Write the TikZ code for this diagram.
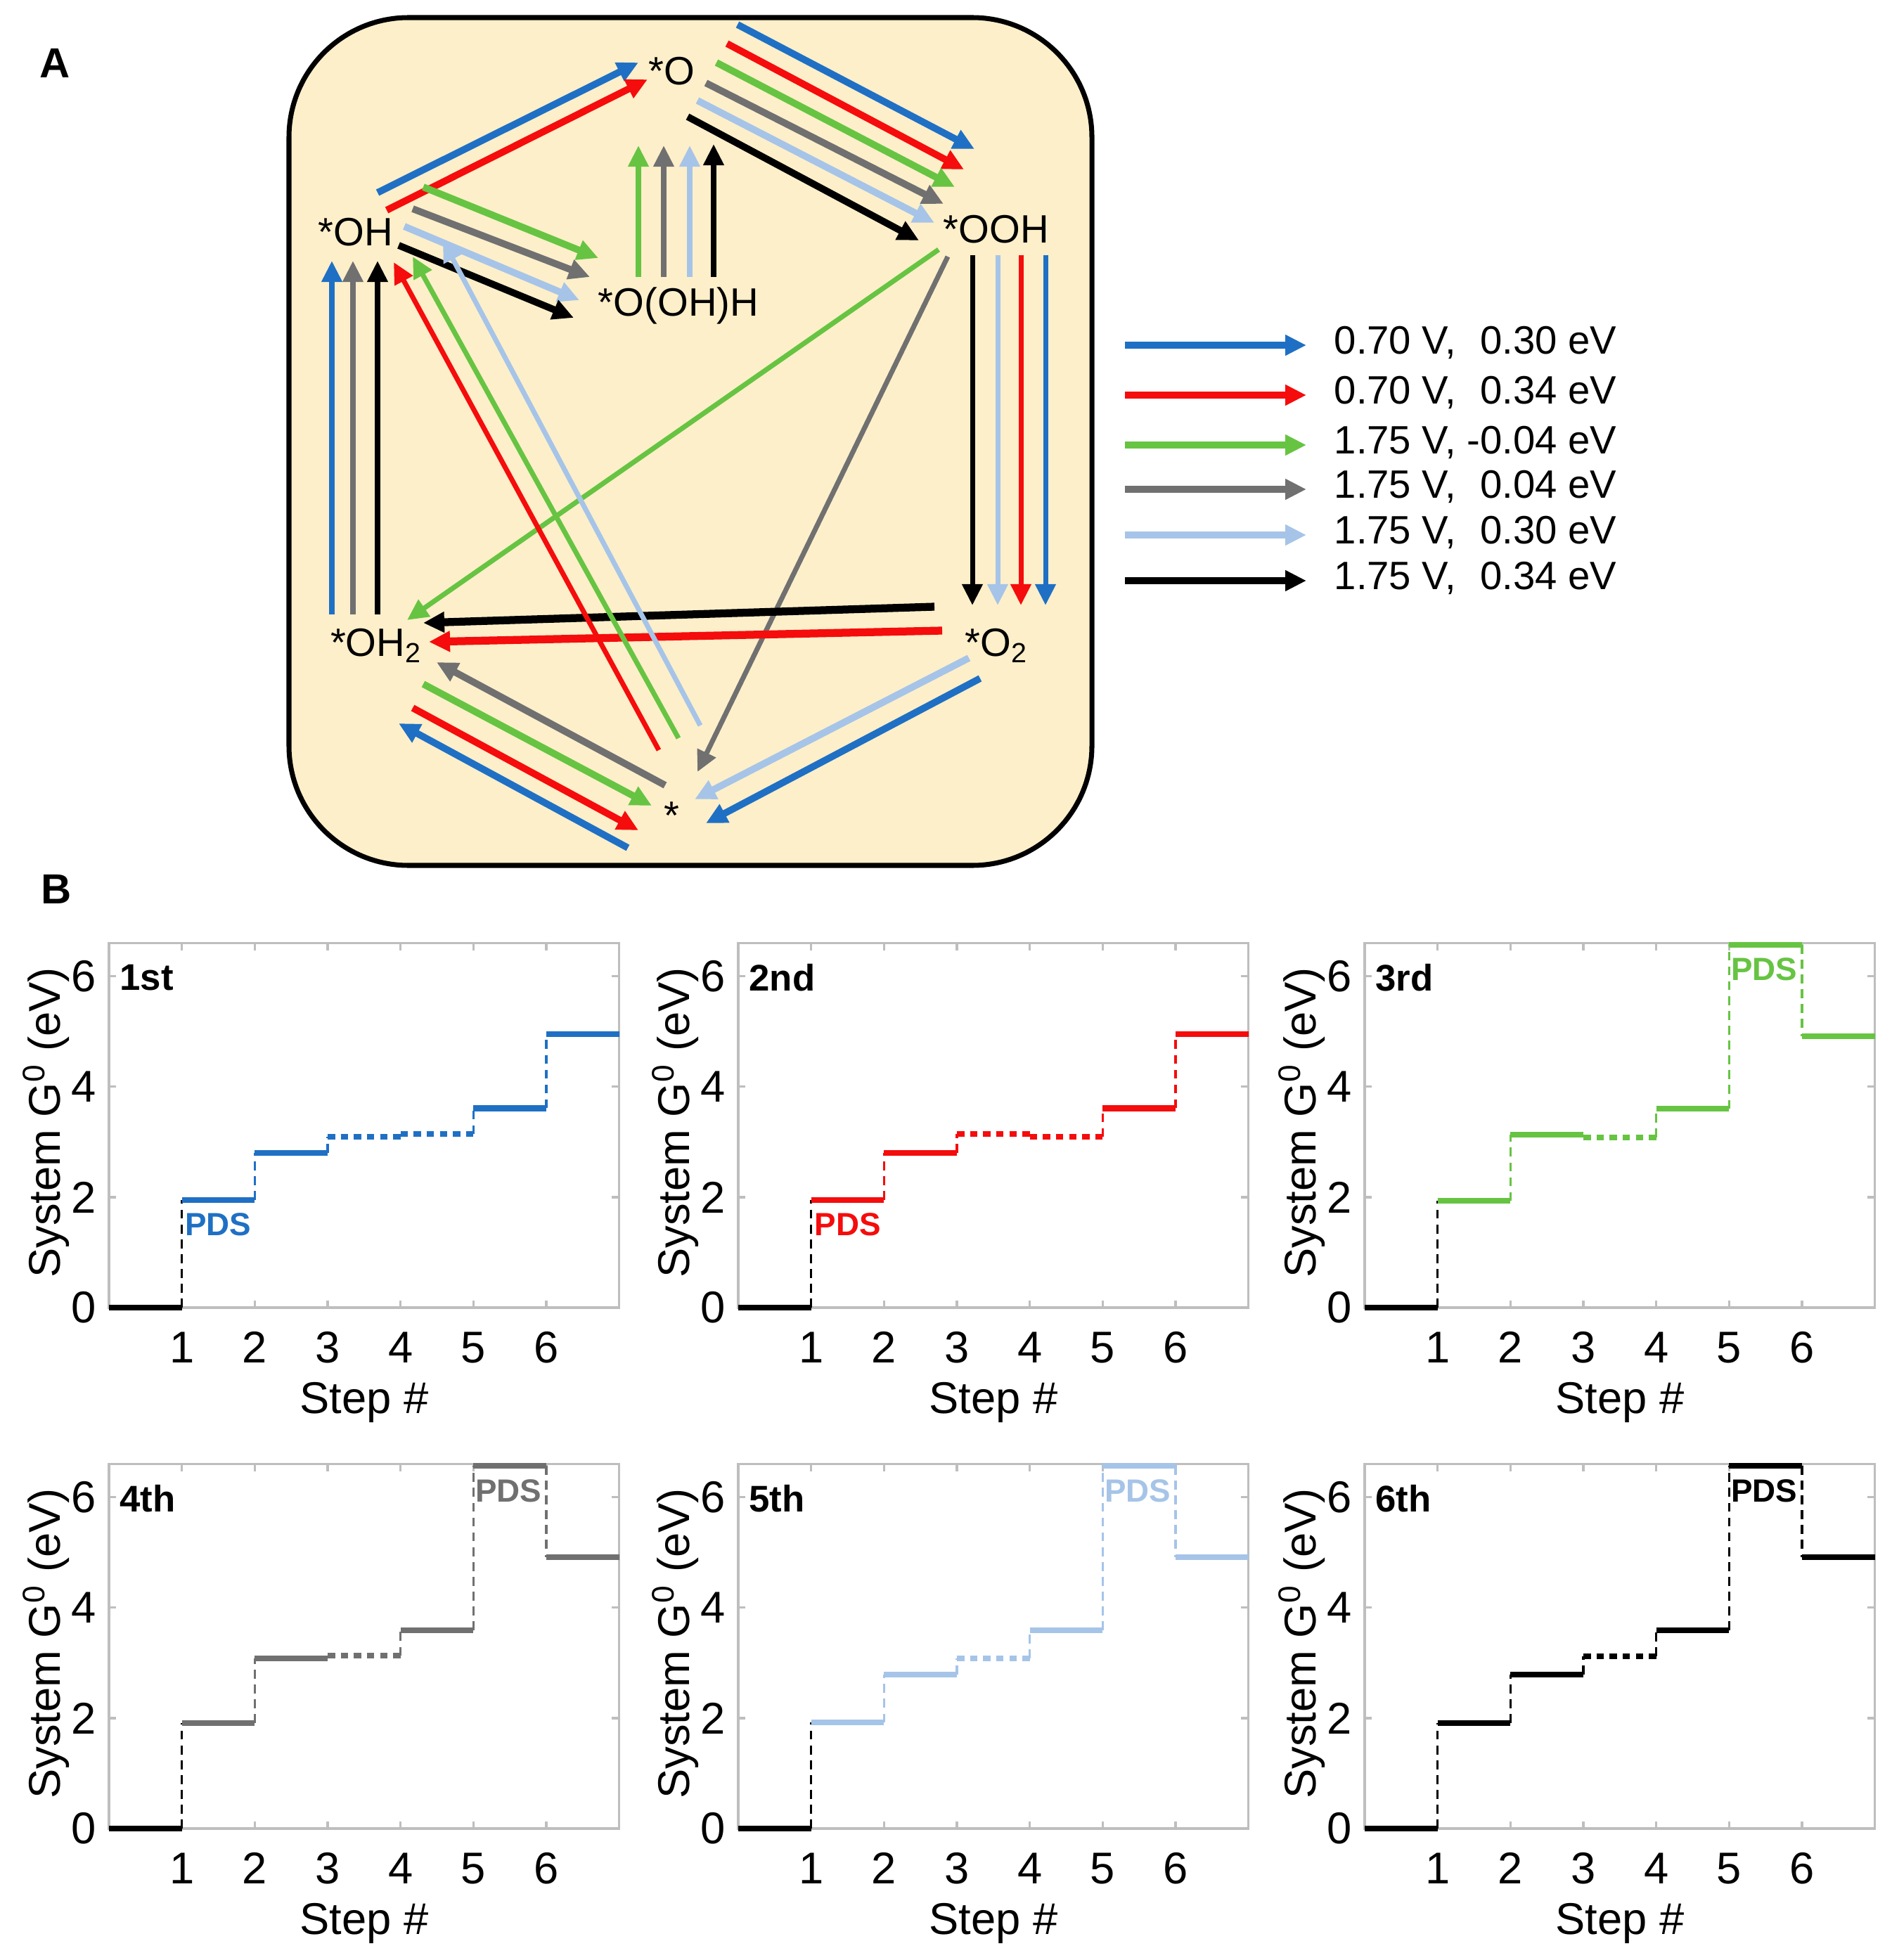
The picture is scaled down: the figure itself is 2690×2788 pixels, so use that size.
\documentclass[tikz,border=0pt]{standalone}
\usepackage{fontspec}
\setmainfont{Liberation Sans}
\usepackage{xcolor}
\usepackage{tikz}
\usetikzlibrary{arrows.meta}

\definecolor{Blau}{RGB}{31,112,196}
\definecolor{Rot}{RGB}{245,12,12}
\definecolor{Gruen}{RGB}{102,196,66}
\definecolor{Grau}{RGB}{112,112,112}
\definecolor{Hellblau}{RGB}{166,196,232}
\definecolor{Kasten}{RGB}{253,239,202}
\definecolor{Rahmengrau}{RGB}{190,190,190}

\tikzset{
  Pfeil/.style={line width=#1,-{Triangle[length=0.30cm,width=0.28cm]}}, % Grundpfeil
  Pfeil/.default=2.8pt,
  BPfeil/.style={Blau,Pfeil=#1}, BPfeil/.default=2.8pt,      % 0.70 V, 0.30 eV
  RPfeil/.style={Rot,Pfeil=#1}, RPfeil/.default=2.8pt,       % 0.70 V, 0.34 eV
  GPfeil/.style={Gruen,Pfeil=#1}, GPfeil/.default=2.8pt,     % 1.75 V, -0.04 eV
  GrPfeil/.style={Grau,Pfeil=#1}, GrPfeil/.default=2.8pt,    % 1.75 V, 0.04 eV
  HPfeil/.style={Hellblau,Pfeil=#1}, HPfeil/.default=2.8pt,  % 1.75 V, 0.30 eV
  SPfeil/.style={black,Pfeil=#1}, SPfeil/.default=2.8pt,     % 1.75 V, 0.34 eV
  Stoff/.style={font=\fontsize{16}{19}\selectfont, inner sep=1pt},
  Legende/.style={font=\fontsize{16}{19}\selectfont, anchor=west, inner sep=0pt},
  Zahl/.style={font=\fontsize{18}{21}\selectfont},
  Titel/.style={font=\fontsize{15}{18}\selectfont\bfseries, anchor=west},
  PDS/.style={font=\fontsize{13}{15}\selectfont\bfseries},
  Teil/.style={font=\fontsize{17}{20}\selectfont\bfseries},
  Achse/.style={Rahmengrau, line width=0.9pt},
  Linie/.style={line width=2.3pt},
  Sprung/.style={line width=0.9pt, dash pattern=on 3.6pt off 2.4pt},
  Punkte/.style={line width=2.3pt, dash pattern=on 3pt off 2.3pt},
  Plot/.style 2 args={shift={(#1,#2)}, x=1.036cm, y=0.785cm}
}

% Achsen, Ticks und Beschriftung eines Diagramms
\newcommand{\Rahmen}[2]{%
  \draw[Achse] (0,0) rectangle (7,6.6);
  \foreach \i in {1,...,6}{
    \draw[Achse] (\i,0) -- (\i,0.13) (\i,6.6) -- (\i,6.47);
    \node[Zahl] (#1x\i) at (\i,-0.72) {\i};
  }
  \foreach \i in {0,2,4,6}{
    \draw[Achse] (0,\i) -- (0.1,\i) (7,\i) -- (6.9,\i);
    \node[Zahl, anchor=east] (#1y\i) at (-0.06,\i) {\i};
  }
  \node[Zahl] (#1xl) at (3.5,-1.72) {Step \#};
  \node[Zahl, rotate=90] (#1yl) at (-0.86,3.35) {System G\textsuperscript{0} (eV)};
  \node[Titel] (#1t) at (0.03,5.97) {#2};
}

% Stufenverlauf: #1 Farbe, #2-#7 Niveaus, #8 Stil des 4. Abschnitts
\newcommand{\Stufen}[8]{%
  \draw[Linie, black] (0,0) -- (1,0);
  \draw[Sprung, black] (1,0) -- (1,#2);
  \draw[Linie, #1] (1,#2) -- (2,#2);
  \draw[Sprung, #1] (2,#2) -- (2,#3);
  \draw[Linie, #1] (2,#3) -- (3,#3);
  \draw[Sprung, #1] (3,#3) -- (3,#4);
  \draw[Punkte, #1] (3,#4) -- (4,#4);
  \draw[Sprung, #1] (4,#4) -- (4,#5);
  \draw[#8, #1] (4,#5) -- (5,#5);
  \draw[Sprung, #1] (5,#5) -- (5,#6);
  \draw[Linie, #1] (5,#6) -- (6,#6);
  \draw[Sprung, #1] (6,#6) -- (6,#7);
  \draw[Linie, #1] (6,#7) -- (7,#7);
}

\begin{document}
\begin{tikzpicture}[x=0.01cm, y=-0.01cm]
\useasboundingbox (0,0) rectangle (2690,2788);

\node[Teil] (A) at (78,90) {A};
\node[Teil] (B) at (80,1265) {B};

%Kasten
\draw[line width=2pt, fill=Kasten, rounded corners=1.7cm] (411,25) rectangle (1553,1231);

%Zwischenstufen
\node[Stoff] (O) at (955,101) {*O};
\node[Stoff] (OOH) at (1417,326) {*OOH};
\node[Stoff] (OH) at (506,330) {*OH};
\node[Stoff] (OOHH) at (965,435) {*O(OH)H};
\node[Stoff] (OHz) at (535,918) {*OH\textsubscript{2}};
\node[Stoff] (Oz) at (1417,918) {*O\textsubscript{2}};
\node[Stoff] (S) at (955,1160) {*};

%*OH -> *O
\draw[BPfeil] ([shift={(31,-56)}]OH.center) -- ([shift={(-47,-12)}]O.center);
\draw[RPfeil] ([shift={(44,-31)}]OH.center) -- ([shift={(-34,12)}]O.center);

%*O -> *OOH
\draw[BPfeil] ([shift={(94,-66)}]O.center) -- ([shift={(-31,-114)}]OOH.center);
\draw[RPfeil] ([shift={(79,-39)}]O.center) -- ([shift={(-46,-85)}]OOH.center);
\draw[GPfeil] ([shift={(64,-12)}]O.center) -- ([shift={(-59,-60)}]OOH.center);
\draw[GrPfeil] ([shift={(49,17)}]O.center) -- ([shift={(-75,-36)}]OOH.center);
\draw[HPfeil] ([shift={(37,42)}]O.center) -- ([shift={(-88,-9)}]OOH.center);
\draw[SPfeil] ([shift={(23,65)}]O.center) -- ([shift={(-110,16)}]OOH.center);

%*OH -> *O(OH)H
\draw[GPfeil] ([shift={(96,-64)}]OH.center) -- ([shift={(-114,-68)}]OOHH.center);
\draw[GrPfeil] ([shift={(81,-33)}]OH.center) -- ([shift={(-126,-41)}]OOHH.center);
\draw[HPfeil] ([shift={(69,-8)}]OH.center) -- ([shift={(-141,-8)}]OOHH.center);
\draw[SPfeil] ([shift={(61,19)}]OH.center) -- ([shift={(-149,17)}]OOHH.center);

%*O(OH)H -> *O
\draw[GPfeil=2pt] ([shift={(-57,-41)}]OOHH.center) -- ([shift={(-47,106)}]O.center);
\draw[GrPfeil=2pt] ([shift={(-21,-41)}]OOHH.center) -- ([shift={(-11,106)}]O.center);
\draw[HPfeil=2pt] ([shift={(16,-41)}]OOHH.center) -- ([shift={(26,106)}]O.center);
\draw[SPfeil=2pt] ([shift={(50,-41)}]OOHH.center) -- ([shift={(60,104)}]O.center);

%*OOH -> *O2
\draw[SPfeil=2pt] ([shift={(-34,37)}]OOH.center) -- ([shift={(-34,-57)}]Oz.center);
\draw[HPfeil=2pt] ([shift={(2,37)}]OOH.center) -- ([shift={(2,-57)}]Oz.center);
\draw[RPfeil=2pt] ([shift={(35,37)}]OOH.center) -- ([shift={(35,-57)}]Oz.center);
\draw[BPfeil=2pt] ([shift={(70,37)}]OOH.center) -- ([shift={(70,-57)}]Oz.center);

%*OOH -> *OH2, *OOH -> *
\draw[GPfeil=2pt] ([shift={(-82,29)}]OOH.center) -- ([shift={(44,-36)}]OHz.center);
\draw[GrPfeil=2pt] ([shift={(-69,39)}]OOH.center) -- ([shift={(37,-62)}]S.center);

%*O2 -> *OH2
\draw[SPfeil=3.2pt] ([shift={(-88,-55)}]Oz.center) -- ([shift={(67,-32)}]OHz.center);
\draw[RPfeil=3.2pt] ([shift={(-77,-21)}]Oz.center) -- ([shift={(75,-5)}]OHz.center);

%*O2 -> *
\draw[HPfeil] ([shift={(-39,18)}]Oz.center) -- ([shift={(33,-23)}]S.center);
\draw[BPfeil] ([shift={(-23,47)}]Oz.center) -- ([shift={(49,11)}]S.center);

%* -> *OH2
\draw[GrPfeil] ([shift={(-9,-43)}]S.center) -- ([shift={(86,24)}]OHz.center);
\draw[BPfeil] ([shift={(-62,46)}]S.center) -- ([shift={(32,111)}]OHz.center);

%*OH2 -> *
\draw[GPfeil] ([shift={(67,55)}]OHz.center) -- ([shift={(-28,-14)}]S.center);
\draw[RPfeil] ([shift={(52,89)}]OHz.center) -- ([shift={(-47,21)}]S.center);

%*OH2 -> *OH
\draw[BPfeil=2pt] ([shift={(-63,-44)}]OHz.center) -- ([shift={(-34,41)}]OH.center);
\draw[GrPfeil=2pt] ([shift={(-33,-44)}]OHz.center) -- ([shift={(-4,41)}]OH.center);
\draw[SPfeil=2pt] ([shift={(2,-44)}]OHz.center) -- ([shift={(31,41)}]OH.center);

%* -> *OH
\draw[RPfeil=2pt] ([shift={(-18,-93)}]S.center) -- ([shift={(54,43)}]OH.center);
\draw[GPfeil=2pt] ([shift={(10,-110)}]S.center) -- ([shift={(81,35)}]OH.center);
\draw[HPfeil=2pt] ([shift={(41,-128)}]S.center) -- ([shift={(124,12)}]OH.center);

%Legende
\node[Legende] (L1) at (1897,487) {0.70 V, \phantom{-}0.30 eV};
\node[Legende] (L2) at (1897,558) {0.70 V, \phantom{-}0.34 eV};
\node[Legende] (L3) at (1897,629) {1.75 V, -0.04 eV};
\node[Legende] (L4) at (1897,692) {1.75 V, \phantom{-}0.04 eV};
\node[Legende] (L5) at (1897,757) {1.75 V, \phantom{-}0.30 eV};
\node[Legende] (L6) at (1897,822) {1.75 V, \phantom{-}0.34 eV};
\draw[BPfeil] ([shift={(-297,4)}]L1.west) -- ([shift={(-39,4)}]L1.west);
\draw[RPfeil] ([shift={(-297,4)}]L2.west) -- ([shift={(-39,4)}]L2.west);
\draw[GPfeil] ([shift={(-297,4)}]L3.west) -- ([shift={(-39,4)}]L3.west);
\draw[GrPfeil] ([shift={(-297,4)}]L4.west) -- ([shift={(-39,4)}]L4.west);
\draw[HPfeil] ([shift={(-297,4)}]L5.west) -- ([shift={(-39,4)}]L5.west);
\draw[SPfeil] ([shift={(-297,4)}]L6.west) -- ([shift={(-39,4)}]L6.west);

%Diagramme
\begin{scope}[Plot={155}{1860}]
  \Rahmen{P1}{1st}
  \Stufen{Blau}{1.95}{2.80}{3.09}{3.14}{3.61}{4.95}{Punkte}
  \node[PDS, text=Blau] (P1pds) at (1.5,1.5) {PDS};
\end{scope}
\begin{scope}[Plot={1050}{1860}]
  \Rahmen{P2}{2nd}
  \Stufen{Rot}{1.95}{2.80}{3.14}{3.09}{3.61}{4.95}{Punkte}
  \node[PDS, text=Rot] (P2pds) at (1.5,1.5) {PDS};
\end{scope}
\begin{scope}[Plot={1941}{1860}]
  \Rahmen{P3}{3rd}
  \Stufen{Gruen}{1.93}{3.13}{3.08}{3.60}{6.57}{4.92}{Linie}
  \node[PDS, text=Gruen] (P3pds) at (5.48,6.13) {PDS};
\end{scope}
\begin{scope}[Plot={155}{2601}]
  \Rahmen{P4}{4th}
  \Stufen{Grau}{1.91}{3.08}{3.13}{3.59}{6.57}{4.91}{Linie}
  \node[PDS, text=Grau] (P4pds) at (5.48,6.12) {PDS};
\end{scope}
\begin{scope}[Plot={1050}{2601}]
  \Rahmen{P5}{5th}
  \Stufen{Hellblau}{1.92}{2.79}{3.08}{3.59}{6.57}{4.91}{Linie}
  \node[PDS, text=Hellblau] (P5pds) at (5.48,6.12) {PDS};
\end{scope}
\begin{scope}[Plot={1941}{2601}]
  \Rahmen{P6}{6th}
  \Stufen{black}{1.91}{2.79}{3.12}{3.59}{6.57}{4.91}{Linie}
  \node[PDS, text=black] (P6pds) at (5.48,6.12) {PDS};
\end{scope}

\end{tikzpicture}
\end{document}
